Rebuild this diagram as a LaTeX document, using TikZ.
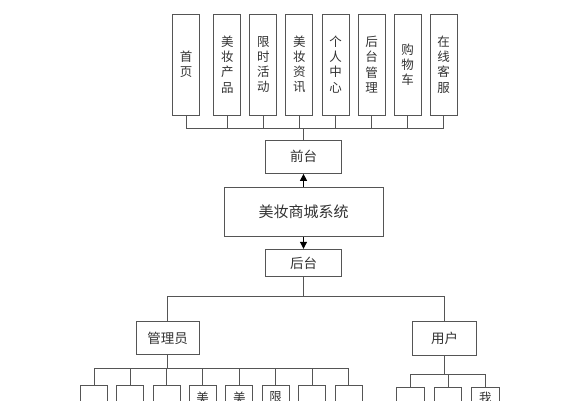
\documentclass[tikz,border=0pt]{standalone}
\usepackage{fontspec}
\setmainfont{Noto Sans CJK SC}
\usetikzlibrary{arrows.meta}
\definecolor{ln}{HTML}{555555}
\definecolor{tx}{HTML}{333333}
\begin{document}
\begin{tikzpicture}[x=1pt,y=-1pt,
  box/.style={draw=ln,line width=1pt,rectangle,inner sep=0pt,text=tx,fill=white},
  vbox/.style={box,minimum width=26.7pt,minimum height=101pt,align=center,font=\fontsize{12.5}{15.2}\selectfont},
  hbox/.style={box,font=\fontsize{13.5}{16}\selectfont},
  lowbox/.style={box,minimum width=26.7pt,minimum height=60pt,anchor=north},
  lowtxt/.style={inner sep=0pt,text=tx,font=\fontsize{12.5}{15}\selectfont,anchor=north},
  conn/.style={draw=ln,line width=1pt},
  arr/.style={conn,-{Triangle[length=7pt,width=7pt]},draw=black,fill=black}
]
\useasboundingbox[fill=white] (0,0) rectangle (585,400);
% top row
\node[vbox] (t1) at (186,64.5) {首\\页};
\node[vbox] (t2) at (227.3,64.5) {美\\妆\\产\\品};
\node[vbox] (t3) at (263.3,64.5) {限\\时\\活\\动};
\node[vbox] (t4) at (299.3,64.5) {美\\妆\\资\\讯};
\node[vbox] (t5) at (335.7,64.5) {个\\人\\中\\心};
\node[vbox] (t6) at (371.7,64.5) {后\\台\\管\\理};
\node[vbox] (t7) at (407.7,64.5) {购\\物\\车};
\node[vbox] (t8) at (443.7,64.5) {在\\线\\客\\服};
\coordinate (tbus) at (303.5,128);
% middle
\node[hbox,minimum width=76pt,minimum height=33.3pt] (qt) at (303.5,156.7) {前台};
\node[box,minimum width=159pt,minimum height=49.4pt,font=\fontsize{15}{18}\selectfont] (sys) at (303.5,212) {美妆商城系统};
\node[hbox,minimum width=76pt,minimum height=27.4pt] (ht) at (303.5,263) {后台};
\coordinate (hbus) at (303.5,296);
\node[hbox,minimum width=63.3pt,minimum height=33.3pt] (adm) at (167.7,338.3) {管理员};
\node[hbox,minimum width=64.4pt,minimum height=33.6pt] (usr) at (444.5,338.5) {用户};
\coordinate (abus) at (167.7,368.3);
\coordinate (ubus) at (444.5,374.3);
% bottom rows
\node[lowbox] (a1) at (94,385) {};
\node[lowbox] (a2) at (130,385) {};
\node[lowbox] (a3) at (166.7,385) {};
\node[lowbox] (a4) at (202.7,385) {};
\node[lowbox] (a5) at (239.3,385) {};
\node[lowbox] (a6) at (275.7,385) {};
\node[lowbox] (a7) at (312.3,385) {};
\node[lowbox] (a8) at (348.7,385) {};
\node[lowbox,minimum width=27.6pt] (u1) at (410.5,386.7) {};
\node[lowbox,minimum width=27.6pt] (u2) at (448,386.7) {};
\node[lowbox,minimum width=27.6pt] (u3) at (485.3,386.7) {};
\node[lowtxt] (a4t) at (202.7,391.5) {美};
\node[lowtxt] (a5t) at (239.3,391.5) {美};
\node[lowtxt] (a6t) at (275.7,391.5) {限};
\node[lowtxt] (u3t) at (485.3,392) {我};
% connectors
\foreach \n in {t1,t2,t3,t4,t5,t6,t7,t8} \draw[conn] (\n.south) |- (tbus);
\draw[conn] (tbus) -- (qt.north);
\draw[arr] (sys.north) -- (qt.south);
\draw[arr] (sys.south) -- (ht.north);
\draw[conn] (ht.south) -- (hbus);
\draw[conn] (adm.north) |- (hbus);
\draw[conn] (usr.north) |- (hbus);
\draw[conn] (adm.south) -- (abus);
\foreach \n in {a1,a2,a3,a4,a5,a6,a7,a8} \draw[conn] (\n.north) |- (abus);
\draw[conn] (usr.south) -- (ubus);
\foreach \n in {u1,u2,u3} \draw[conn] (\n.north) |- (ubus);
\end{tikzpicture}
\end{document}
